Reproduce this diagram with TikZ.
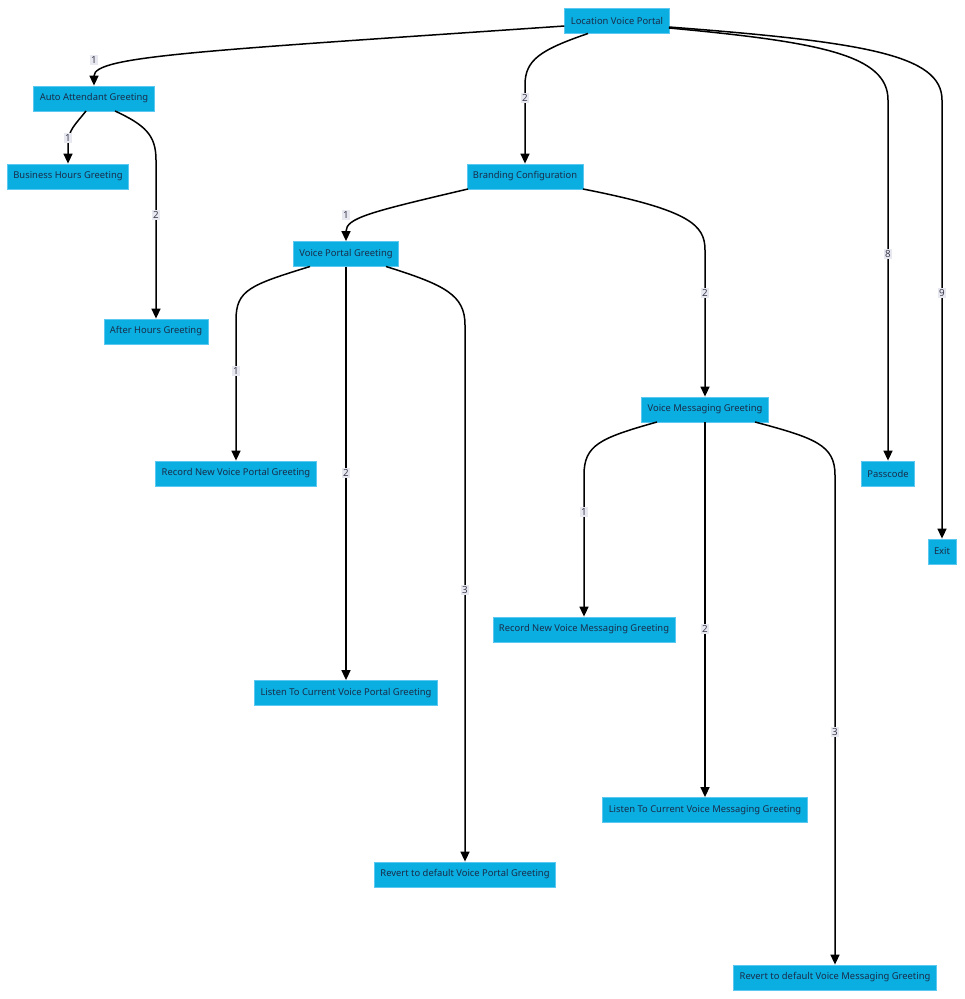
\documentclass[tikz,border=0pt]{standalone}
\usepackage{fontspec}
\setmainfont{Noto Sans}
\usetikzlibrary{arrows.meta}
\definecolor{boxfill}{RGB}{10,174,224}
\definecolor{boxline}{RGB}{90,200,240}
\definecolor{boxtext}{RGB}{25,45,75}
\definecolor{lblfill}{RGB}{232,232,240}
\definecolor{lbltext}{RGB}{60,60,80}
\tikzset{
  box/.style={draw=boxline, line width=0.8pt, fill=boxfill, text=boxtext, font=\fontsize{9.4}{11}\selectfont,
    minimum height=25pt, inner xsep=6pt, inner ysep=0pt},
  lbl/.style={fill=lblfill, text=lbltext, font=\fontsize{9.8}{11}\selectfont, inner xsep=1.5pt, inner ysep=1.5pt},
  edge/.style={draw=black, line width=1.5pt, -{Triangle[length=10pt,width=9pt]}},
}
\begin{document}
\begin{tikzpicture}[x=1pt,y=-1pt]
\useasboundingbox (0,0) rectangle (965,999);
% nodes
\node[box] (lvp) at (617,21) {Location Voice Portal};
\node[box] (aag) at (94,98.5) {Auto Attendant Greeting};
\node[box] (bhg) at (68,176.5) {Business Hours Greeting};
\node[box] (ahg) at (156,331.5) {After Hours Greeting};
\node[box] (bc) at (525,176.5) {Branding Configuration};
\node[box] (vpg) at (346,254) {Voice Portal Greeting};
\node[box] (rnvp) at (236,473.5) {Record New Voice Portal Greeting};
\node[box] (lcvp) at (346,693) {Listen To Current Voice Portal Greeting};
\node[box] (rdvp) at (465,874.5) {Revert to default Voice Portal Greeting};
\node[box] (vmg) at (705,409.5) {Voice Messaging Greeting};
\node[box] (rnvm) at (584,629.5) {Record New Voice Messaging Greeting};
\node[box] (lcvm) at (705,810) {Listen To Current Voice Messaging Greeting};
\node[box] (rdvm) at (835,977.5) {Revert to default Voice Messaging Greeting};
\node[box] (pc) at (888,473.5) {Passcode};
\node[box] (ex) at (942,551.5) {Exit};
% edges
\draw[edge] (lvp.west |- 0,26) .. controls (200,51) and (94,56) .. (aag.north);
\draw[edge] (588,33.5) .. controls (540,50) and (525,60) .. (525,85) -- (bc.north);
\draw[edge] (669,28) .. controls (820,42) and (888,55) .. (888,100) -- (pc.north);
\draw[edge] (669,27) .. controls (865,42) and (942,55) .. (942,100) -- (ex.north);
\draw[edge] (86,111) .. controls (75,125) and (68,130) .. (68,145) -- (bhg.north);
\draw[edge] (115,111) .. controls (145,125) and (156,135) .. (156,160) -- (ahg.north);
\draw[edge] (468,189) .. controls (370,212) and (346,218) .. (vpg.north);
\draw[edge] (583,189) .. controls (690,210) and (705,225) .. (705,250) -- (vmg.north);
\draw[edge] (310,266.5) .. controls (250,285) and (236,290) .. (236,320) -- (rnvp.north);
\draw[edge] (vpg.south) -- (lcvp.north);
\draw[edge] (386,266.5) .. controls (445,285) and (465,295) .. (465,325) -- (rdvp.north);
\draw[edge] (657,422) .. controls (600,438) and (584,445) .. (584,475) -- (rnvm.north);
\draw[edge] (vmg.south) -- (lcvm.north);
\draw[edge] (755,422) .. controls (815,438) and (835,445) .. (835,475) -- (rdvm.north);
% labels
\node[lbl] (l1) at (94,60) {1};
\node[lbl] (l2) at (525,98) {2};
\node[lbl] (l3) at (888,254) {8};
\node[lbl] (l4) at (942,293) {9};
\node[lbl] (l5) at (68,138) {1};
\node[lbl] (l6) at (156,215) {2};
\node[lbl] (l7) at (346,215) {1};
\node[lbl] (l8) at (705,293) {2};
\node[lbl] (l9) at (236,371) {1};
\node[lbl] (l10) at (346,473) {2};
\node[lbl] (l11) at (465,590) {3};
\node[lbl] (l12) at (584,512) {1};
\node[lbl] (l13) at (705,629) {2};
\node[lbl] (l14) at (835,732) {3};
\end{tikzpicture}
\end{document}
